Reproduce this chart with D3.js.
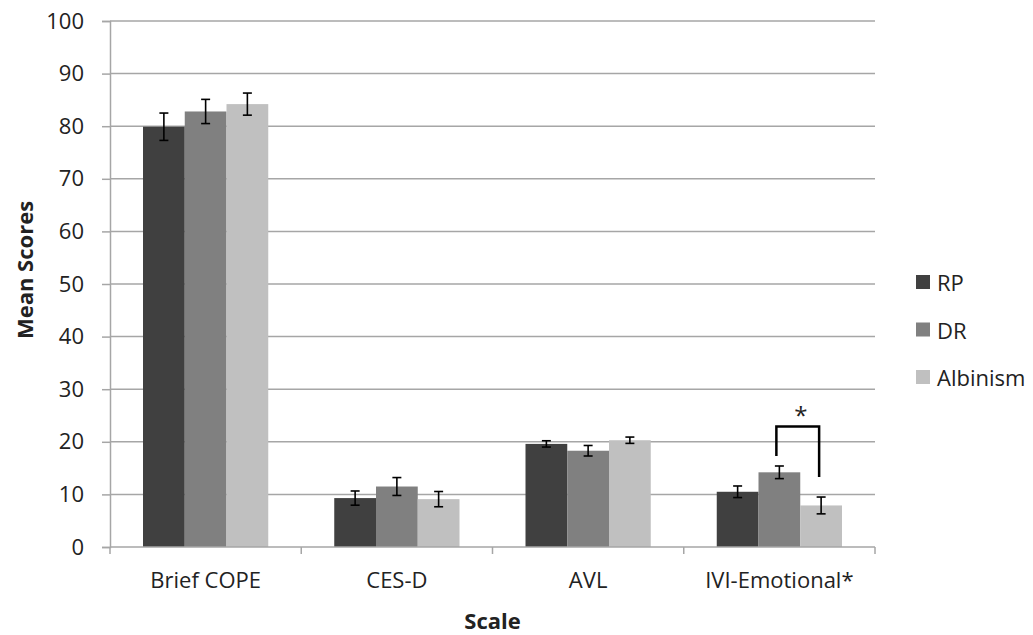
<!DOCTYPE html>
<html>
<head>
<meta charset="utf-8">
<script src="https://cdn.jsdelivr.net/npm/d3@7"></script>
<style>
  body { margin: 0; background: #fff; }
  text { font-family: "Open Sans", "Noto Sans", sans-serif; fill: #222; }
</style>
</head>
<body>
<div id="chart"></div>
<script>
// Data
let categories = ["Brief COPE", "CES-D", "AVL", "IVI-Emotional*"];
let groups = ["RP", "DR", "Albinism"];
let colors = ["#404040", "#808080", "#c0c0c0"];
let rpValues = [79.9, 9.3, 19.6, 10.5];
let drValues = [82.8, 11.5, 18.3, 14.2];
let albValues = [84.2, 9.1, 20.3, 7.9];
let rpErr = [2.6, 1.35, 0.6, 1.1];
let drErr = [2.3, 1.7, 1.0, 1.2];
let albErr = [2.1, 1.45, 0.6, 1.6];
let yTicks = [0, 10, 20, 30, 40, 50, 60, 70, 80, 90, 100];
// significance bracket between DR and Albinism on IVI-Emotional
let bracketTop = 22.9;
let bracketLeftEnd = 17.3;
let bracketRightEnd = 13.3;

let svgWidth = 1033;
let svgHeight = 635;
let margin = { top: 21, right: 158, bottom: 88, left: 110 };
let width = svgWidth - margin.left - margin.right;
let height = svgHeight - margin.top - margin.bottom;
let fontSize = "22px";

let svg = d3.select("#chart").append("svg")
  .attr("width", svgWidth)
  .attr("height", svgHeight);

let chartGroup = svg.append("g")
  .attr("transform", `translate(${margin.left}, ${margin.top})`);

let x0 = d3.scaleBand().domain(categories).range([0, width]).paddingInner(0).paddingOuter(0);
let x1 = d3.scaleBand().domain(groups).range([33, x0.bandwidth() - 33]);
let y = d3.scaleLinear().domain([0, 100]).range([height, 0]);

// gridlines
chartGroup.selectAll(".grid")
  .data(yTicks.filter(d => d > 0))
  .enter().append("line")
  .attr("x1", 0).attr("x2", width)
  .attr("y1", d => y(d)).attr("y2", d => y(d))
  .attr("stroke", "#a6a6a6").attr("stroke-width", 1.5);

// build rows
let rows = [];
categories.forEach((c, i) => {
  rows.push({ cat: c, group: "RP", v: rpValues[i], e: rpErr[i] });
  rows.push({ cat: c, group: "DR", v: drValues[i], e: drErr[i] });
  rows.push({ cat: c, group: "Albinism", v: albValues[i], e: albErr[i] });
});
let color = d3.scaleOrdinal().domain(groups).range(colors);

chartGroup.selectAll(".bar")
  .data(rows)
  .enter().append("rect")
  .attr("x", d => x0(d.cat) + x1(d.group))
  .attr("y", d => y(d.v))
  .attr("width", x1.bandwidth())
  .attr("height", d => y(0) - y(d.v))
  .attr("fill", d => color(d.group));

// error bars
let errG = chartGroup.selectAll(".err")
  .data(rows)
  .enter().append("g")
  .attr("stroke", "#000").attr("stroke-width", 1.6);
let cx = d => x0(d.cat) + x1(d.group) + x1.bandwidth() / 2;
errG.append("line")
  .attr("x1", cx).attr("x2", cx)
  .attr("y1", d => y(d.v + d.e)).attr("y2", d => y(d.v - d.e));
errG.append("line")
  .attr("x1", d => cx(d) - 4.5).attr("x2", d => cx(d) + 4.5)
  .attr("y1", d => y(d.v + d.e)).attr("y2", d => y(d.v + d.e));
errG.append("line")
  .attr("x1", d => cx(d) - 4.5).attr("x2", d => cx(d) + 4.5)
  .attr("y1", d => y(d.v - d.e)).attr("y2", d => y(d.v - d.e));

// y axis
let leftAxis = d3.axisLeft(y).tickValues(yTicks).tickSize(8).tickPadding(18);
let yAxis = chartGroup.append("g").call(leftAxis);
yAxis.select(".domain").attr("stroke", "#a6a6a6").attr("stroke-width", 1.5);
yAxis.selectAll(".tick line").attr("stroke", "#a6a6a6").attr("stroke-width", 1.5);
yAxis.selectAll(".tick text")
  .attr("font-size", fontSize)
  .attr("font-family", "Open Sans, sans-serif")
  .attr("fill", "#222");

// x axis
let xAxis = chartGroup.append("g").attr("transform", `translate(0, ${height})`);
xAxis.append("line")
  .attr("x1", 0).attr("x2", width)
  .attr("stroke", "#a6a6a6").attr("stroke-width", 1.5);
xAxis.selectAll(".xtick")
  .data(d3.range(categories.length + 1))
  .enter().append("line")
  .attr("x1", i => i * x0.bandwidth()).attr("x2", i => i * x0.bandwidth())
  .attr("y1", 0).attr("y2", 7)
  .attr("stroke", "#a6a6a6").attr("stroke-width", 1.5);
xAxis.selectAll(".xlabel")
  .data(categories)
  .enter().append("text")
  .attr("x", d => x0(d) + x0.bandwidth() / 2)
  .attr("y", 41)
  .attr("text-anchor", "middle")
  .attr("font-size", fontSize)
  .text(d => d);

// axis titles
svg.append("text")
  .attr("x", margin.left + width / 2)
  .attr("y", 629)
  .attr("text-anchor", "middle")
  .attr("font-size", fontSize)
  .attr("font-weight", "bold")
  .text("Scale");

svg.append("text")
  .attr("transform", `translate(33, 270) rotate(-90)`)
  .attr("text-anchor", "middle")
  .attr("font-size", fontSize)
  .attr("font-weight", "bold")
  .text("Mean Scores");

// significance bracket
let ivi = categories[3];
let bl = x0(ivi) + x1("DR") + x1.bandwidth() / 2 - 3;
let br = x0(ivi) + x1("Albinism") + x1.bandwidth() / 2 - 2;
chartGroup.append("path")
  .attr("d", `M${bl},${y(bracketLeftEnd)} V${y(bracketTop)} H${br} V${y(bracketRightEnd)}`)
  .attr("fill", "none")
  .attr("stroke", "#000")
  .attr("stroke-width", 2.5);
chartGroup.append("text")
  .attr("x", (bl + br) / 2 + 3)
  .attr("y", y(bracketTop) - 3)
  .attr("text-anchor", "middle")
  .attr("font-size", "24px")
  .text("*");

// legend
let legend = svg.append("g").attr("transform", "translate(916, 0)");
let legendItems = legend.selectAll(".leg")
  .data(groups)
  .enter().append("g")
  .attr("transform", (d, i) => `translate(0, ${291 + i * 47.5})`);
legendItems.append("rect")
  .attr("x", 0).attr("y", -16)
  .attr("width", 14).attr("height", 14)
  .attr("fill", d => color(d));
legendItems.append("text")
  .attr("x", 21).attr("y", 0)
  .attr("font-size", fontSize)
  .text(d => d);
</script>
</body>
</html>
